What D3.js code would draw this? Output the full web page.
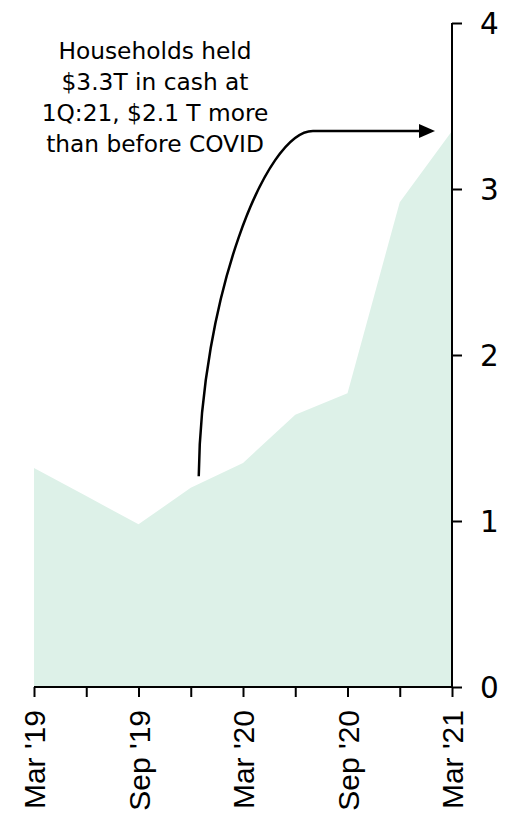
<!DOCTYPE html>
<html>
<head>
<meta charset="utf-8">
<script src="https://cdn.jsdelivr.net/npm/d3@7"></script>
<style>
  html, body { margin: 0; padding: 0; background: #fff; }
  svg { display: block; }
</style>
</head>
<body>
<svg id="chart" width="510" height="822"></svg>
<script>
const quarters = ["Mar '19", "Jun '19", "Sep '19", "Dec '19", "Mar '20", "Jun '20", "Sep '20", "Dec '20", "Mar '21"];
const cashTrillions = [1.32, 1.15, 0.98, 1.20, 1.35, 1.64, 1.77, 2.92, 3.35];
const yTicks = [0, 1, 2, 3, 4];
const labelledQuarters = ["Mar '19", "Sep '19", "Mar '20", "Sep '20", "Mar '21"];
const noteLines = ["Households held", "$3.3T in cash at", "1Q:21, $2.1 T more", "than before COVID"];

const svg = d3.select("#chart");
const x = d3.scalePoint().domain(quarters).range([34, 452]);
const y = d3.scaleLinear().domain([0, 4]).range([687, 23]);

// area
const area = d3.area()
  .x((d, i) => x(quarters[i]))
  .y0(y(0))
  .y1(d => y(d));
svg.append("path")
  .datum(cashTrillions)
  .attr("d", area)
  .attr("fill", "#ddf1e8");

// x axis
const xAxis = d3.axisBottom(x)
  .tickSize(10)
  .tickPadding(13)
  .tickFormat(d => labelledQuarters.includes(d) ? d : "");
const gx = svg.append("g").attr("transform", `translate(0,${y(0)})`).call(xAxis);
gx.select(".domain").attr("stroke", "#000").attr("stroke-width", 2).attr("d", `M${x(quarters[0])},0H${x(quarters[quarters.length-1])}`);
gx.selectAll(".tick line").attr("stroke", "#000").attr("stroke-width", 2);
gx.selectAll(".tick text")
  .attr("font-family", "'Liberation Sans', Arial, sans-serif")
  .attr("font-size", 30)
  .attr("fill", "#000")
  .attr("text-anchor", "end")
  .attr("transform", "rotate(-90)")
  .attr("x", -23)
  .attr("y", 0)
  .attr("dy", "0.35em");

// y axis (right)
const yAxis = d3.axisRight(y).tickValues(yTicks).tickSize(10).tickPadding(18).tickFormat(d3.format("d"));
const gy = svg.append("g").attr("transform", `translate(${x(quarters[quarters.length-1])},0)`).call(yAxis);
gy.select(".domain").attr("stroke", "#000").attr("stroke-width", 2).attr("d", `M0,${y(0)}V${y(4)}`);
gy.selectAll(".tick line").attr("stroke", "#000").attr("stroke-width", 2);
gy.selectAll(".tick text")
  .attr("font-family", "'DejaVu Sans', Verdana, sans-serif")
  .attr("font-size", 29.5)
  .attr("fill", "#000")
  .attr("dy", "0.36em");

// annotation text
const note = svg.append("text")
  .attr("font-family", "'DejaVu Sans', Verdana, sans-serif")
  .attr("font-size", 23.3)
  .attr("fill", "#000")
  .attr("text-anchor", "middle");
noteLines.forEach((t, i) => {
  note.append("tspan").attr("x", 155).attr("y", 59 + i * 31).text(t);
});

// arrow
const last = cashTrillions[cashTrillions.length - 1];
const ay = y(last);
const sx = x(quarters[3]) + 8, sy = y(1.27);
const tipX = x(quarters[quarters.length - 1]) - 17;
const p = d3.path();
p.moveTo(sx, sy);
p.bezierCurveTo(sx + 2, sy - 176, 265, ay, 313, ay);
p.lineTo(tipX - 14, ay);
svg.append("path").attr("d", p.toString()).attr("fill", "none").attr("stroke", "#000").attr("stroke-width", 2.5);
svg.append("path")
  .attr("d", `M${tipX},${ay}L${tipX - 16},${ay - 7}L${tipX - 16},${ay + 7}Z`)
  .attr("fill", "#000");
</script>
</body>
</html>
